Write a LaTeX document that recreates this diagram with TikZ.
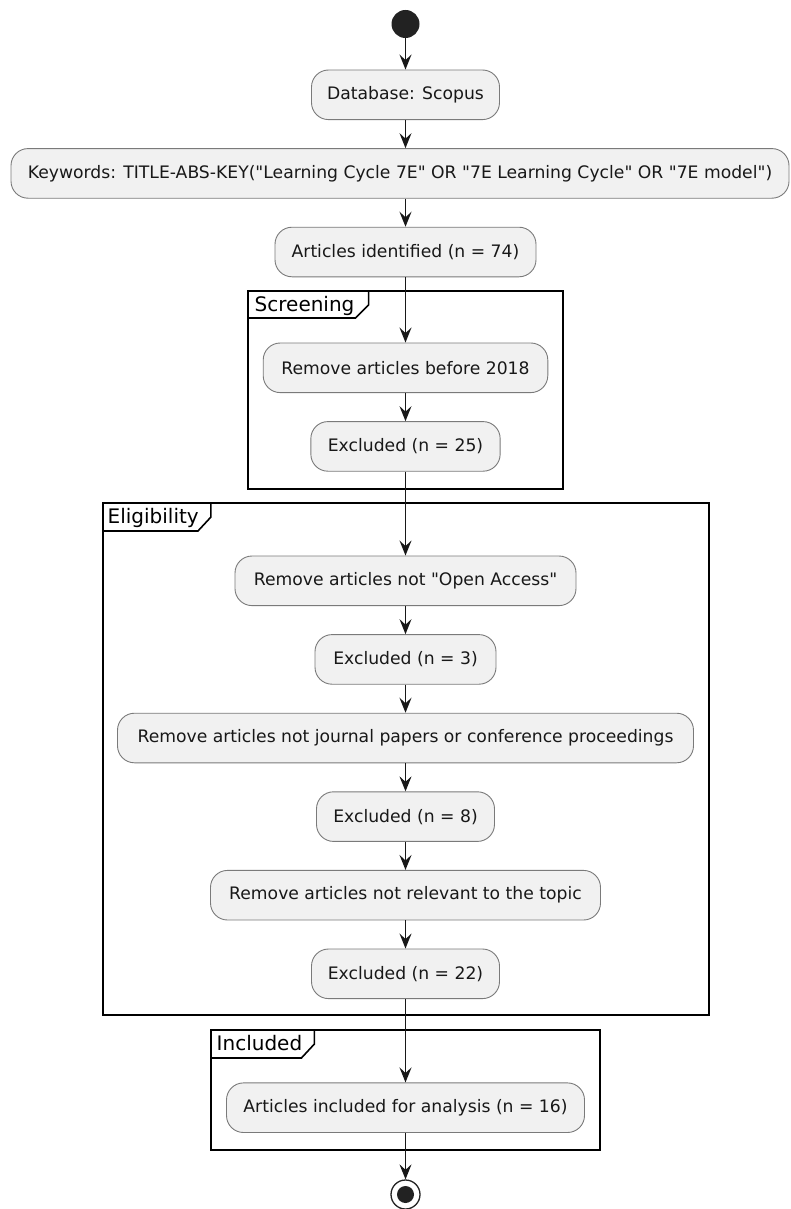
\documentclass[tikz,border=0pt]{standalone}
\usepackage{fontspec}
\setmainfont{DejaVu Sans}
\newfontfamily\qfont{DejaVu Sans}
\usetikzlibrary{arrows.meta,calc}
\definecolor{boxfill}{HTML}{F1F1F1}
\definecolor{ink}{HTML}{181818}
\definecolor{dark}{HTML}{222222}
\definecolor{boxline}{HTML}{7A7A7A}
\newcommand{\sq}{{\qfont"}}
\begin{document}
\begin{tikzpicture}[x=1pt,y=-1pt,
  act/.style={draw=boxline, line width=0.9pt, fill=boxfill, rounded corners=17pt,
    minimum height=49.6pt, inner xsep=0pt, inner ysep=0pt,
    font=\fontsize{17.2}{20}\selectfont, text=ink},
  flow/.style={draw=ink, line width=1.5pt, -{Stealth[length=15pt,width=12pt,inset=5.5pt]}},
  frm/.style={draw=black, line width=2.2pt},
  tabline/.style={draw=black, line width=1.6pt},
  lbl/.style={font=\fontsize{20}{24}\selectfont, inner sep=0pt, anchor=base west, text=black}
]
\useasboundingbox (0,0) rectangle (790,1209);

% frames
\draw[frm] (248.3,291) rectangle (562.7,489);
\draw[frm] (103.3,503) rectangle (709,1015);
\draw[frm] (211,1030) rectangle (600,1150);

\node[lbl] (lS) at (254.5,311.5) {Screening};
\node[lbl] (lE) at (107.5,523.3) {Eligibility};
\node[lbl] (lI) at (216.5,1050.3) {Included};

\coordinate (sT) at (0,291);  \coordinate (sB) at (0,318);
\coordinate (eT) at (0,503);  \coordinate (eB) at (0,531);
\coordinate (iT) at (0,1030); \coordinate (iB) at (0,1058);

\draw[tabline] (248.3,318) -- ($(lS.east |- sB)+(1,0)$) -- ($(lS.east |- sB)+(14,-13)$) -- ($(lS.east |- sT)+(14,0)$);
\draw[tabline] (103.3,531) -- ($(lE.east |- eB)+(-1,0)$) -- ($(lE.east |- eB)+(12,-14)$) -- ($(lE.east |- eT)+(12,0)$);
\draw[tabline] (211,1058) -- ($(lI.east |- iB)+(-1,0)$) -- ($(lI.east |- iB)+(12,-14)$) -- ($(lI.east |- iT)+(12,0)$);

% nodes
\node[circle, fill=dark, minimum size=28pt, inner sep=0pt] (st) at (405.5,24) {};
\node[act, minimum width=188pt] (db) at (405.5,94.8) {Database: Scopus};
\node[act, minimum width=778pt] (kw) at (400,173.4) {Keywords: TITLE-ABS-KEY(\sq Learning Cycle 7E\sq{} OR \sq 7E Learning Cycle\sq{} OR \sq 7E model\sq)};
\node[act, minimum width=261pt] (ai) at (405.5,252) {Articles identified (n = 74)};
\node[act, minimum width=284.6pt] (r18) at (405.5,367.8) {Remove articles before 2018};
\node[act, minimum width=189.3pt] (e25) at (405.5,446.4) {Excluded (n = 25)};
\node[act, minimum width=341pt] (roa) at (405.5,580.8) {Remove articles not \sq Open Access\sq};
\node[act, minimum width=181pt] (e3) at (405.5,659.4) {Excluded (n = 3)};
\node[act, minimum width=576pt] (rj) at (405.5,738) {Remove articles not journal papers or conference proceedings};
\node[act, minimum width=178pt] (e8) at (405.5,816.6) {Excluded (n = 8)};
\node[act, minimum width=390pt] (rr) at (405.5,895.2) {Remove articles not relevant to the topic};
\node[act, minimum width=188pt] (e22) at (405.5,973.8) {Excluded (n = 22)};
\node[act, minimum width=358pt] (inc) at (405.5,1107.7) {Articles included for analysis (n = 16)};
\node[circle, draw=dark, line width=1.3pt, fill=white, minimum size=29pt, inner sep=0pt] (en) at (405.5,1194.5) {};
\node[circle, fill=dark, minimum size=17pt, inner sep=0pt] (enin) at (en) {};

% connectors
\draw[flow] (st) -- (db);
\draw[flow] (db) -- (kw.north -| db);
\draw[flow] (kw.south -| db) -- (ai);
\draw[flow] (ai) -- (r18);
\draw[flow] (r18) -- (e25);
\draw[flow] (e25) -- (roa);
\draw[flow] (roa) -- (e3);
\draw[flow] (e3) -- (rj);
\draw[flow] (rj) -- (e8);
\draw[flow] (e8) -- (rr);
\draw[flow] (rr) -- (e22);
\draw[flow] (e22) -- (inc);
\draw[flow] (inc) -- (en);
\end{tikzpicture}
\end{document}
